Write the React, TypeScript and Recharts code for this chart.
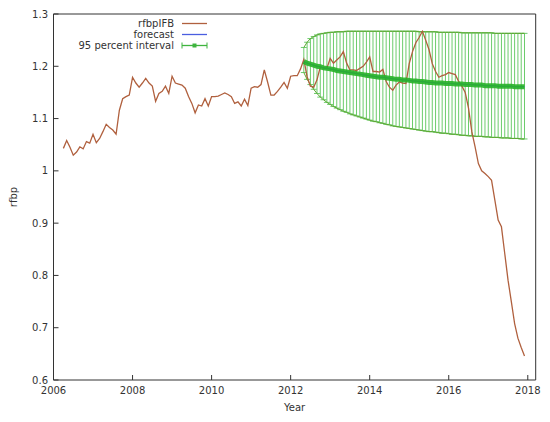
import React from "react";
import { ComposedChart, Line, XAxis, YAxis, ErrorBar } from "recharts";

// monthly observations, April 2006 .. December 2017
const OBS_START = 2006 + 3 / 12;
const rfbpIFB = [
  1.043, 1.058, 1.045, 1.03, 1.036, 1.046, 1.042, 1.056, 1.053,
  1.07, 1.054, 1.062, 1.075, 1.089, 1.083, 1.078, 1.07, 1.116, 1.138, 1.142, 1.145,
  1.179, 1.168, 1.16, 1.168, 1.177, 1.168, 1.162, 1.133, 1.148, 1.152, 1.162, 1.148,
  1.181, 1.168, 1.166, 1.164, 1.158, 1.142, 1.129, 1.111, 1.126, 1.124, 1.138, 1.124,
  1.142, 1.142, 1.143, 1.146, 1.149, 1.146, 1.142, 1.129, 1.132, 1.124, 1.137, 1.125,
  1.158, 1.161, 1.16, 1.165, 1.193, 1.17, 1.145, 1.145, 1.152, 1.16, 1.169, 1.158,
  1.181, 1.182, 1.182, 1.195, 1.213, 1.18, 1.162, 1.16, 1.174, 1.199, 1.196, 1.196,
  1.215, 1.206, 1.212, 1.218, 1.228, 1.206, 1.193, 1.193, 1.192, 1.196, 1.2, 1.208,
  1.218, 1.19, 1.19, 1.189, 1.194, 1.171, 1.16, 1.154, 1.164, 1.17, 1.168, 1.167,
  1.205, 1.228, 1.245, 1.255, 1.267, 1.25, 1.232, 1.205, 1.19, 1.179, 1.182, 1.184,
  1.188, 1.186, 1.184, 1.171, 1.162, 1.15, 1.12, 1.075, 1.046, 1.014, 1.0, 0.995,
  0.989, 0.982, 0.944, 0.906, 0.893, 0.842, 0.791, 0.75, 0.708, 0.68, 0.662, 0.646,
];

// monthly forecast, May 2012 .. December 2017
const FC_START = 2012 + 4 / 12;
const forecast = [
  1.209, 1.206, 1.204, 1.202, 1.2, 1.199, 1.197, 1.196,
  1.195, 1.194, 1.192, 1.191, 1.19, 1.189, 1.188, 1.187, 1.186, 1.185, 1.184, 1.183,
  1.182, 1.181, 1.18, 1.179, 1.179, 1.178, 1.177, 1.176, 1.175, 1.175, 1.174, 1.174,
  1.173, 1.172, 1.172, 1.171, 1.171, 1.17, 1.169, 1.169, 1.168, 1.168, 1.168, 1.167,
  1.167, 1.167, 1.166, 1.166, 1.166, 1.165, 1.165, 1.165, 1.164, 1.164, 1.164, 1.163,
  1.163, 1.163, 1.163, 1.162, 1.162, 1.162, 1.162, 1.162, 1.161, 1.161, 1.161, 1.161,
];
const lower95 = [
  1.188, 1.175, 1.165, 1.156, 1.148, 1.141, 1.136, 1.131,
  1.127, 1.123, 1.12, 1.117, 1.114, 1.112, 1.109, 1.107, 1.105, 1.103, 1.101, 1.099,
  1.097, 1.095, 1.094, 1.092, 1.091, 1.089, 1.088, 1.086, 1.085, 1.084, 1.083, 1.082,
  1.081, 1.08, 1.079, 1.078, 1.077, 1.076, 1.075, 1.075, 1.074, 1.073, 1.072, 1.072,
  1.071, 1.07, 1.07, 1.069, 1.068, 1.068, 1.067, 1.067, 1.066, 1.066, 1.066, 1.065,
  1.065, 1.064, 1.064, 1.064, 1.063, 1.063, 1.063, 1.062, 1.062, 1.062, 1.061, 1.061,
];
const upper95 = [
  1.236, 1.246, 1.253, 1.257, 1.26, 1.262, 1.263, 1.264,
  1.265, 1.265, 1.266, 1.266, 1.266, 1.267, 1.267, 1.267, 1.267, 1.267, 1.267, 1.267,
  1.267, 1.267, 1.267, 1.267, 1.267, 1.267, 1.267, 1.267, 1.267, 1.267, 1.267, 1.267,
  1.267, 1.267, 1.267, 1.266, 1.266, 1.266, 1.266, 1.266, 1.266, 1.265, 1.265, 1.265,
  1.265, 1.265, 1.265, 1.265, 1.264, 1.264, 1.264, 1.264, 1.264, 1.264, 1.264, 1.264,
  1.264, 1.264, 1.263, 1.263, 1.263, 1.263, 1.263, 1.263, 1.263, 1.263, 1.263, 1.263,
];

const X_TICKS = [2006, 2008, 2010, 2012, 2014, 2016, 2018];
const Y_TICKS = [0.6, 0.7, 0.8, 0.9, 1.0, 1.1, 1.2, 1.3];
const X_DOMAIN: [number, number] = [2006, 2018.2];
const Y_DOMAIN: [number, number] = [0.6, 1.3];

const obsRows = rfbpIFB.map((v, i) => ({ year: OBS_START + i / 12, rfbp: v }));
const fcRows = forecast.map((v, i) => ({
  year: FC_START + i / 12,
  fc: v,
  lo: lower95[i],
  hi: upper95[i],
  err: [v - lower95[i], upper95[i] - v],
}));

const FONT = "'DejaVu Sans', Verdana, sans-serif";
const INK = "#333";
const tickStyle = { fontSize: 10, fill: INK, fontFamily: FONT };

function LegendBox() {
  const rows = [
    { label: "rfbpIFB", color: "#b0603e" },
    { label: "forecast", color: "#4a5ee0" },
    { label: "95 percent interval", color: "#3fb43f" },
  ];
  return (
    <svg width={220} height={60} style={{ position: "absolute", left: 0, top: 0 }}>
      {rows.map((r, i) => {
        const y = 23.5 + i * 11;
        return (
          <g key={r.label}>
            <text x={174} y={y} textAnchor="end" dominantBaseline="central"
              fontSize={10} fill={INK} fontFamily={FONT}>{r.label}</text>
            <line x1={182} x2={207} y1={y} y2={y} stroke={r.color} strokeWidth={1.3} />
            {i === 2 && (
              <g stroke={r.color} strokeWidth={1}>
                <line x1={182} x2={182} y1={y - 3} y2={y + 3} />
                <line x1={207} x2={207} y1={y - 3} y2={y + 3} />
                <rect x={193} y={y - 1.5} width={3} height={3} fill={r.color} />
              </g>
            )}
          </g>
        );
      })}
    </svg>
  );
}

export default function App() {
  return (
    <div style={{ position: "absolute", left: 0, top: 0, width: 550, height: 422 }}>
      <ComposedChart width={550} height={422} margin={{ top: 13, right: 13.3, bottom: 0, left: 0 }}>
        <XAxis
          xAxisId="bottom"
          type="number"
          dataKey="year"
          domain={X_DOMAIN}
          ticks={X_TICKS}
          allowDataOverflow
          height={42}
          stroke={INK}
          tickSize={-5}
          tickMargin={11.5}
          tick={tickStyle}
          label={{
            content: (p: any) => (
              <text x={p.viewBox.x + p.viewBox.width / 2} y={407} textAnchor="middle"
                dominantBaseline="central" fontSize={10} fill={INK} fontFamily={FONT}>Year</text>
            ),
          }}
        />
        <XAxis
          xAxisId="top"
          orientation="top"
          type="number"
          dataKey="year"
          domain={X_DOMAIN}
          ticks={X_TICKS}
          allowDataOverflow
          height={1}
          stroke={INK}
          tickSize={-5}
          tick={false}
        />
        <YAxis
          yAxisId="left"
          type="number"
          domain={Y_DOMAIN}
          ticks={Y_TICKS}
          allowDataOverflow
          width={53.5}
          stroke={INK}
          tickSize={-5}
          tickMargin={10.5}
          tick={tickStyle}
          tickFormatter={(v: number) => String(Math.round(v * 10) / 10)}
          label={{
            content: (p: any) => {
              const cy = p.viewBox.y + p.viewBox.height / 2;
              return (
                <text x={13} y={cy} transform={`rotate(-90 13 ${cy})`} textAnchor="middle"
                  dominantBaseline="central" fontSize={10} fill={INK} fontFamily={FONT}>rfbp</text>
              );
            },
          }}
        />
        <YAxis
          yAxisId="right"
          orientation="right"
          type="number"
          domain={Y_DOMAIN}
          ticks={Y_TICKS}
          allowDataOverflow
          width={1}
          stroke={INK}
          tickSize={-5}
          tick={false}
        />

        {/* invisible copy so the mirrored frame axes get drawn */}
        <Line data={obsRows} xAxisId="top" yAxisId="right" dataKey="rfbp" stroke="none"
          dot={false} activeDot={false} isAnimationActive={false} legendType="none" />

        <Line data={fcRows} xAxisId="bottom" yAxisId="left" dataKey="fc" stroke="none"
          dot={false} isAnimationActive={false} legendType="none">
          <ErrorBar dataKey="err" width={3} stroke="#6ccc6c" strokeWidth={1} direction="y" />
        </Line>
        <Line data={fcRows} xAxisId="bottom" yAxisId="left" dataKey="hi" stroke="#5fa530"
          strokeWidth={1} dot={false} isAnimationActive={false} />
        <Line data={fcRows} xAxisId="bottom" yAxisId="left" dataKey="lo" stroke="#5fa530"
          strokeWidth={1} dot={false} isAnimationActive={false} />
        <Line data={obsRows} xAxisId="bottom" yAxisId="left" dataKey="rfbp" stroke="#b0603e"
          strokeWidth={1.3} dot={false} isAnimationActive={false} />
        <Line data={fcRows} xAxisId="bottom" yAxisId="left" dataKey="fc" stroke="#4a5ee0"
          strokeWidth={1.5} dot={false} isAnimationActive={false} />
        <Line data={fcRows} xAxisId="bottom" yAxisId="left" dataKey="fc" stroke="#27b327"
          strokeWidth={5} strokeOpacity={0.9} dot={false} isAnimationActive={false} />
      </ComposedChart>
      <LegendBox />
    </div>
  );
}
